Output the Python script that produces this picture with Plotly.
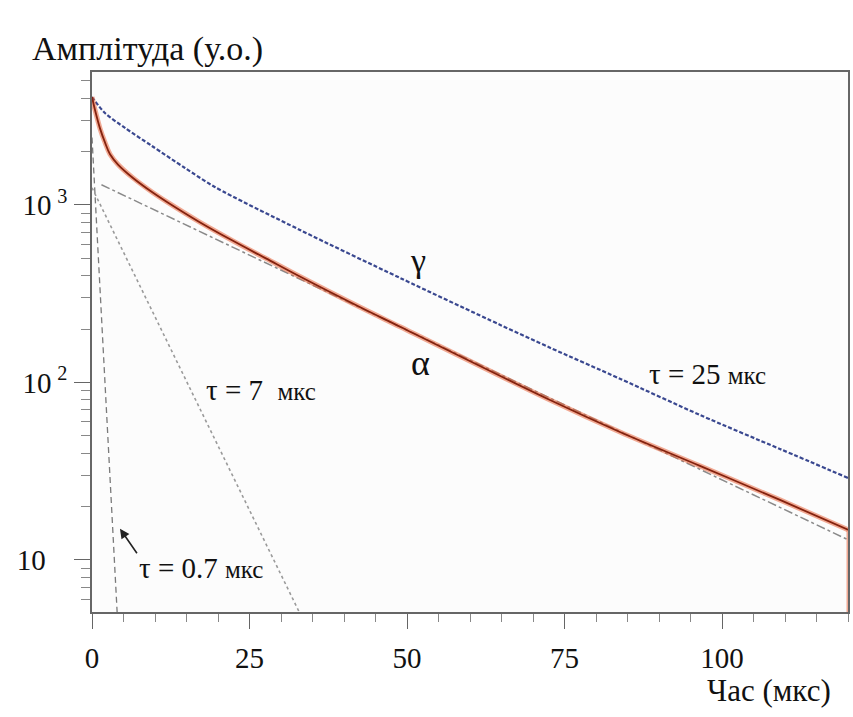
import plotly.graph_objects as go
import math

# ---- data ----
gamma_t = [0, 2.06, 5.24, 9.52, 14.76, 19.5, 33.0, 48.9, 64.8, 72.7, 83.8, 96.5, 109.2, 120]
gamma_v = [4055, 3296, 2716, 2149, 1615, 1263, 723, 388, 211, 157, 105, 65.6, 42.2, 29]

alpha_t = [0, 0.48, 1.27, 2.06, 2.86, 4.13, 6.51, 9.52, 11.9, 17.1, 22.3, 27.6, 33.0, 42.5, 48.9,
           72.7, 83.8, 96.5, 109.2, 120]
alpha_v = [4055, 3428, 2700, 2250, 1930, 1690, 1420, 1183, 1040, 800, 630, 500, 395, 266, 206,
           79.6, 52.6, 33.9, 21.8, 14.8]

# final drop of the α trace at the end of the record
alpha_end_t = [120, 120]
alpha_end_v = [14.8, 1]

fit25_t = [1.5, 120]
fit25_v = [1300, 13]

fit7_t = [0, 33]
fit7_v = [1250, 5]

fit07_t = [0, 4.0]
fit07_v = [2400, 5]

x_ticks = [0, 25, 50, 75, 100]
x_ticktext = ["0", "25", "50", "75", "100"]
y_ticks = [10, 100, 1000]
y_ticktext = ["10\u00a0\u00a0\u00a0", "10\u2009<sup>2</sup>", "10\u2009<sup>3</sup>"]
y_minor = [6, 7, 8, 9, 20, 30, 40, 50, 60, 70, 80, 90,
           200, 300, 400, 500, 600, 700, 800, 900, 2000, 3000, 4000, 5000]

SERIF = "Liberation Serif"

fig = go.Figure()

fig.add_trace(go.Scatter(x=fit25_t, y=fit25_v, mode="lines",
                         line=dict(color="#8a8a8a", width=1.5, dash="dashdot"),
                         showlegend=False, hoverinfo="skip"))
fig.add_trace(go.Scatter(x=fit7_t, y=fit7_v, mode="lines",
                         line=dict(color="#9a9a9a", width=1.6, dash="dot"),
                         showlegend=False, hoverinfo="skip"))
fig.add_trace(go.Scatter(x=fit07_t, y=fit07_v, mode="lines",
                         line=dict(color="#7a7a7a", width=1.3, dash="6px,4px"),
                         showlegend=False, hoverinfo="skip"))
fig.add_trace(go.Scatter(x=gamma_t, y=gamma_v, mode="lines", name="γ",
                         line=dict(color="#3a4890", width=2.2, dash="4px,2px",
                                   shape="spline", smoothing=0.8),
                         showlegend=False))
fig.add_trace(go.Scatter(x=alpha_end_t, y=alpha_end_v, mode="lines",
                         line=dict(color="rgba(232,100,60,0.55)", width=3),
                         showlegend=False, hoverinfo="skip"))
fig.add_trace(go.Scatter(x=alpha_t, y=alpha_v, mode="lines",
                         line=dict(color="rgba(232,100,60,0.55)", width=5,
                                   shape="spline", smoothing=1.0),
                         showlegend=False, hoverinfo="skip"))
fig.add_trace(go.Scatter(x=alpha_t, y=alpha_v, mode="lines", name="α",
                         line=dict(color="#84220e", width=1.8,
                                   shape="spline", smoothing=1.0),
                         showlegend=False))

MKS = "<span style='font-size:25px'>мкс</span>"
annotations = [
    dict(x=88.1, y=2.045, text="τ = 25 " + MKS,
         xanchor="left", yanchor="middle", showarrow=False,
         font=dict(family=SERIF, size=29, color="#111")),
    dict(x=17.8, y=1.955, text="τ = 7 \u00a0" + MKS,
         xanchor="left", yanchor="middle", showarrow=False,
         font=dict(family=SERIF, size=29, color="#111")),
    dict(x=7.14, y=0.955, text="τ = 0.7 " + MKS,
         xanchor="left", yanchor="middle", showarrow=False,
         font=dict(family=SERIF, size=29, color="#111")),
    dict(x=51.7, y=3 + (205 - 261) / 177.5, text="γ",
         xanchor="center", yanchor="middle", showarrow=False,
         font=dict(family=SERIF, size=34, color="#111")),
    dict(x=52.1, y=3 + (205 - 363) / 177.5, text="α",
         xanchor="center", yanchor="middle", showarrow=False,
         font=dict(family=SERIF, size=36, color="#111")),
    dict(x=4.44, y=math.log10(15), ax=18, ay=26, text="", showarrow=True,
         arrowhead=2, arrowsize=1.2, arrowwidth=1.6, arrowcolor="#222"),
    dict(xref="paper", yref="paper", x=(833 - 92) / 756, y=-(690 - 612) / 540,
         text="Час (мкс)", xanchor="right", yanchor="middle", showarrow=False,
         font=dict(family=SERIF, size=31, color="#111")),
]

fig.update_layout(
    width=853, height=717,
    margin=dict(l=92, r=5, t=72, b=105, autoexpand=False),
    paper_bgcolor="#ffffff",
    plot_bgcolor="#fcfcfc",
    font=dict(family=SERIF),
    title=dict(text="Амплітуда (у.о.)", xref="container", yref="container",
               x=32 / 853, xanchor="left", y=1 - 48 / 717, yanchor="middle",
               automargin=False,
               font=dict(family=SERIF, size=34, color="#111")),
    annotations=annotations,
    xaxis=dict(range=[0, 120], showgrid=False, zeroline=False, automargin=False,
               showline=True, linecolor="#666", linewidth=1.5, mirror=True,
               tickmode="array", tickvals=x_ticks, ticktext=x_ticktext,
               ticks="outside", ticklen=15, tickwidth=1.3, tickcolor="#666",
               ticklabelstandoff=4,
               tickfont=dict(family=SERIF, size=29, color="#111"),
               minor=dict(dtick=5, tick0=0, ticks="outside", ticklen=8,
                          tickwidth=1, tickcolor="#888", showgrid=False)),
    yaxis=dict(type="log", range=[0.707, 3.749], showgrid=False, zeroline=False,
               automargin=False,
               showline=True, linecolor="#666", linewidth=1.5, mirror=True,
               tickmode="array", tickvals=y_ticks, ticktext=y_ticktext,
               ticks="outside", ticklen=16, tickwidth=1.3, tickcolor="#666",
               ticklabelstandoff=1,
               tickfont=dict(family=SERIF, size=29, color="#111"),
               minor=dict(tickmode="array", tickvals=y_minor, ticks="outside",
                          ticklen=9, tickwidth=1, tickcolor="#888", showgrid=False)),
)

fig.write_html("out.html", config={"displayModeBar": False},
               post_script="document.body.style.margin='0px';")
